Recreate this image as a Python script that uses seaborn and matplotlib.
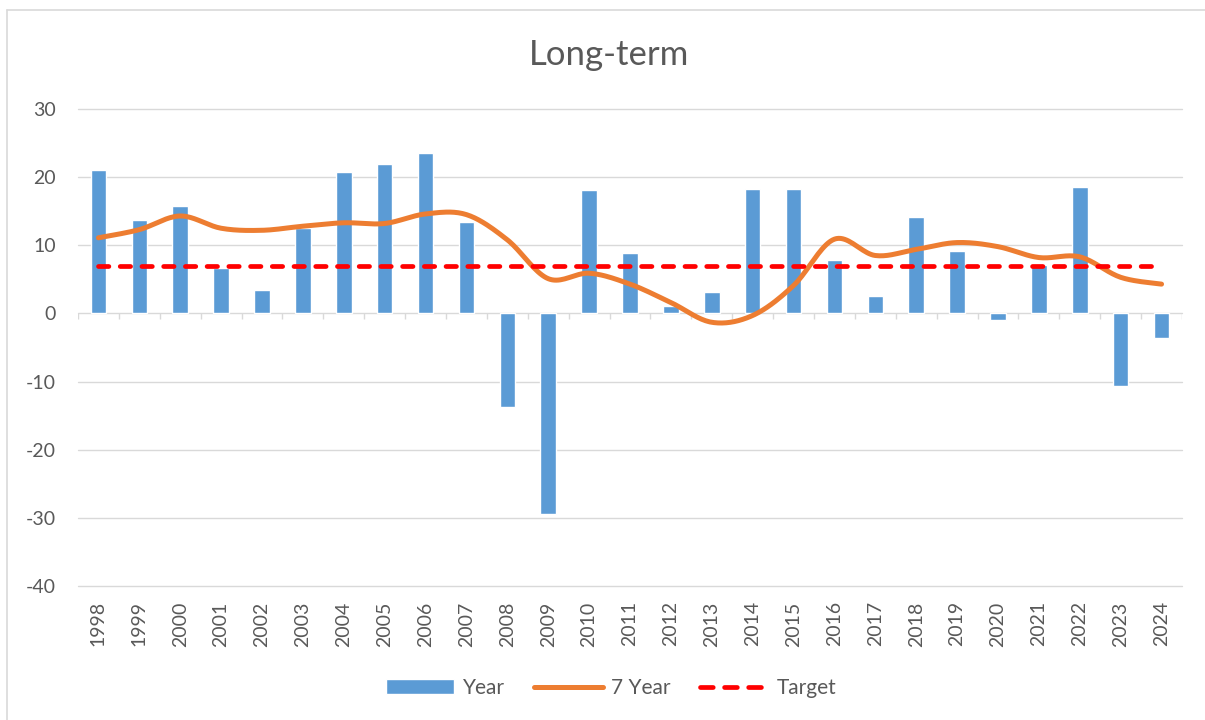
import numpy as np
import pandas as pd
import matplotlib
matplotlib.use("Agg")
import matplotlib.pyplot as plt
import seaborn as sns
from matplotlib.lines import Line2D
from matplotlib.patches import Patch

# data
years = [str(y) for y in range(1998, 2025)]
year_return = [21.0, 13.7, 15.8, 6.6, 3.5, 12.5, 20.8, 21.9, 23.6, 13.4,
               -13.8, -29.5, 18.1, 8.9, 1.1, 3.2, 18.3, 18.3, 7.9, 2.5,
               14.1, 9.1, -0.9, 7.1, 18.6, -10.7, -3.6]
seven_year = [11.1, 12.3, 14.3, 12.5, 12.2, 12.8, 13.3, 13.2, 14.6, 14.5,
              10.8, 5.1, 5.9, 4.3, 1.6, -1.3, -0.3, 4.1, 10.9, 8.5,
              9.4, 10.4, 9.8, 8.2, 8.3, 5.3, 4.3]
target = [7.0] * len(years)

BLUE = "#5B9BD5"
ORANGE = "#ED7D31"
RED = "#FF0000"
GRID = "#D9D9D9"
TEXT = "#595959"

sns.set_theme(style="white")
plt.rcParams["font.family"] = ["Lato", "DejaVu Sans"]
plt.rcParams["axes.unicode_minus"] = False


def smooth(xs, ys, n=20):
    # Catmull-Rom path, like the "smoothed line" option in spreadsheets
    xs = np.asarray(xs, float)
    ys = np.asarray(ys, float)
    px = np.concatenate([[xs[0]], xs, [xs[-1]]])
    py = np.concatenate([[ys[0]], ys, [ys[-1]]])
    out_x, out_y = [], []
    t = np.linspace(0, 1, n, endpoint=False)
    for i in range(1, len(px) - 2):
        for arr, out in ((px, out_x), (py, out_y)):
            p0, p1, p2, p3 = arr[i - 1], arr[i], arr[i + 1], arr[i + 2]
            out.extend(0.5 * (2 * p1 + (-p0 + p2) * t
                              + (2 * p0 - 5 * p1 + 4 * p2 - p3) * t ** 2
                              + (-p0 + 3 * p1 - 3 * p2 + p3) * t ** 3))
    out_x.append(xs[-1])
    out_y.append(ys[-1])
    return np.array(out_x), np.array(out_y)


df = pd.DataFrame({"year": years, "Year": year_return,
                   "7 Year": seven_year, "Target": target})
pos = np.arange(len(years))

fig = plt.figure(figsize=(12.05, 7.2), dpi=100)
ax = fig.add_axes([78 / 1205, 1 - 586 / 720, (1182 - 78) / 1205, (586 - 109) / 720])

for v in range(-40, 31, 10):
    ax.axhline(v, color=GRID, lw=1.0, zorder=0, clip_on=False)

sns.barplot(data=df, x="year", y="Year", color=BLUE, width=0.38,
            saturation=1, ax=ax, zorder=2)

# category boundary tick marks hanging off the zero line
ax.vlines(np.arange(-0.5, len(years), 1.0), -0.85, 0, color=GRID, lw=1.0, zorder=1)

sx, sy = smooth(pos, df["7 Year"])
ax.plot(sx, sy, color=ORANGE, lw=3.6, solid_capstyle="round", zorder=3)
ax.plot(pos, df["Target"], color=RED, lw=3.4, dashes=(2.2, 2.4),
        dash_capstyle="round", zorder=4)

ax.set_xlim(-0.5, len(years) - 0.5)
ax.set_ylim(-40, 30)
ax.set_yticks(range(-40, 31, 10))
ax.set_xticks(pos)
ax.set_xticklabels(years, rotation=90)
ax.tick_params(axis="x", length=0, pad=11, labelsize=14, labelcolor=TEXT)
ax.tick_params(axis="y", length=0, pad=16, labelsize=14, labelcolor=TEXT)
ax.set_xlabel("")
ax.set_ylabel("")
for s in ax.spines.values():
    s.set_visible(False)

fig.text(609 / 1205, 1 - 55 / 720, "Long-term", ha="center", va="center",
         fontsize=25, color=TEXT)

handles = [Patch(facecolor=BLUE, label="Year"),
           Line2D([], [], color=ORANGE, lw=3.6, solid_capstyle="round", label="7 Year"),
           Line2D([], [], color=RED, lw=3.4, dashes=(2.7, 2.4),
                  dash_capstyle="round", label="Target")]
fig.legend(handles=handles, loc="center", bbox_to_anchor=(611 / 1205, 1 - 688 / 720),
           ncol=3, frameon=False, fontsize=15, labelcolor=TEXT, handlelength=3.3,
           handleheight=0.7, handletextpad=0.4, columnspacing=1.4)

# chart area border (left and top only visible in the reference)
fig.add_artist(Line2D([7 / 1205, 7 / 1205], [0, 1 - 10 / 720], color=GRID, lw=1.2))
fig.add_artist(Line2D([7 / 1205, 1], [1 - 10 / 720, 1 - 10 / 720], color=GRID, lw=1.2))

fig.savefig("out.png", dpi=100, facecolor="white")
